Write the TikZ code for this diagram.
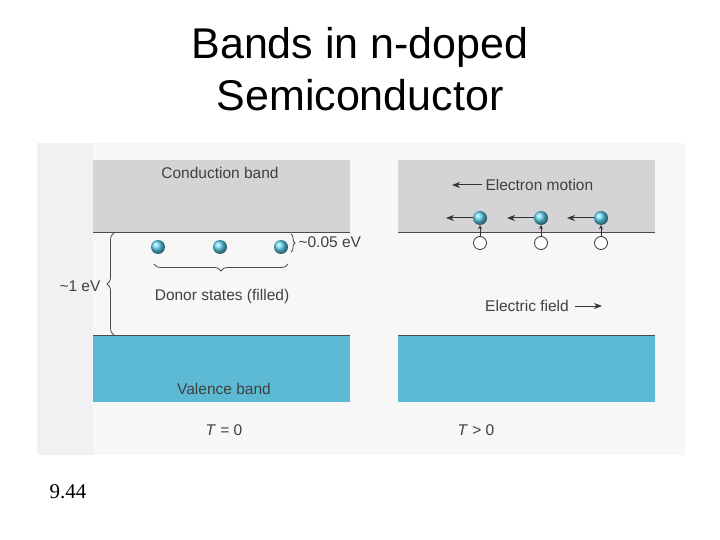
\documentclass[tikz,border=0pt]{standalone}
\usepackage{fontspec}
\setmainfont{Liberation Sans}
\newfontfamily\timesf{Liberation Serif}
\usetikzlibrary{decorations.pathreplacing,arrows.meta}
\definecolor{valc}{HTML}{5DBAD4}
\definecolor{condc}{HTML}{D4D4D6}
\definecolor{ballc}{HTML}{5CD0EC}
\begin{document}
\begin{tikzpicture}[x=1pt,y=-1pt,
  cband/.style={fill=condc,draw=none},
  vband/.style={fill=valc,draw=none},
  edge/.style={draw=black!70,line width=0.9pt},
  elec/.style={circle,minimum size=14pt,inner sep=0pt,ball color=ballc,shading=ball},
  hole/.style={circle,minimum size=13pt,inner sep=0pt,draw=black!80,fill=white,line width=0.8pt},
  lbl/.style={font=\fontsize{15.5}{18}\selectfont,text=black!75},
  arr/.style={-{Stealth[length=8pt,width=6pt]},line width=1pt,black!80},
  br/.style={decorate,draw=black!70,line width=0.8pt}]
\useasboundingbox (0,0) rectangle (720,540);
\fill[white] (0,0) rectangle (720,540);
\node[font=\fontsize{43}{52}\selectfont,align=center] (title) at (360,69) {Bands in n-doped\\Semiconductor};
\fill[blue!3!gray!6] (37,143) rectangle (685,455);
\fill[blue!8!gray!10] (37,143) rectangle (93,455);
% left panel
\fill[cband] (93,160) rectangle (350,232);
\draw[edge] (93,232) -- (350,232);
\fill[vband] (93,335) rectangle (350,402);
\draw[edge] (93,335) -- (350,335);
\node[lbl] (cb) at (220,173) {Conduction band};
\node[lbl] (vb) at (224,389) {Valence band};
\node[elec] (d1) at (158,247) {};
\node[elec] (d2) at (220,247) {};
\node[elec] (d3) at (281,247) {};
\coordinate (ba) at (154,264); \coordinate (bb) at (288,264);
\draw[br,decoration={brace,amplitude=7pt,mirror}] (ba) -- (bb);
\node[lbl] (ds) at (222,296) {Donor states (filled)};
\coordinate (sa) at (291,234); \coordinate (sb) at (291,252);
\draw[br,decoration={brace,amplitude=4pt}] (sa) -- (sb);
\node[lbl,anchor=west] (s05) at (295,242) {\textasciitilde0.05 eV};
\coordinate (ga) at (114,233); \coordinate (gb) at (114,335);
\draw[br,decoration={brace,amplitude=7pt,mirror}] (ga) -- (gb);
\node[lbl,anchor=east] (g1) at (104,286) {\textasciitilde1 eV};
\node[lbl] (t0) at (224,430) {\textit{T} = 0};
% right panel
\fill[cband] (398,160) rectangle (655,232);
\draw[edge] (398,232) -- (655,232);
\fill[vband] (398,335) rectangle (655,402);
\draw[edge] (398,335) -- (655,335);
\coordinate (ema) at (482,185); \coordinate (emb) at (452,185);
\draw[arr] (ema) -- (emb);
\node[lbl,anchor=west] (em) at (482,185) {Electron motion};
\node[lbl] (ef) at (527,306) {Electric field};
\coordinate (efa) at (575,306); \coordinate (efb) at (602,306);
\draw[arr] (efa) -- (efb);
\foreach \x/\n in {480/1,541/2,601/3}{
  \node[hole] (h\n) at (\x,243) {};
  \node[elec] (e\n) at (\x,218) {};
  \coordinate (l\n) at (\x-34,218);
  \draw[arr] (e\n) -- (l\n);
  \draw[-{Stealth[length=4pt,width=4pt]},line width=0.7pt,black!80] (h\n) -- (e\n);
}
\node[lbl] (t1) at (476,430) {\textit{T} > 0};
\node[font=\timesf\fontsize{21}{24}\selectfont] (num) at (68,492) {9.44};
\end{tikzpicture}
\end{document}
